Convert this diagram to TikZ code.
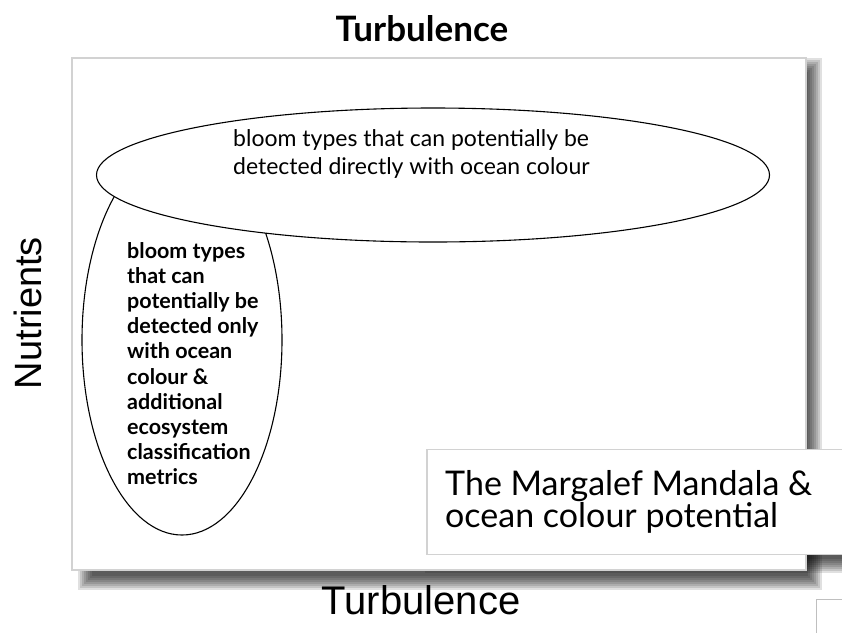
\documentclass[tikz,border=0pt]{standalone}
\usepackage{fontspec}
\setmainfont{Lato}
\newfontfamily\axisfont{Liberation Sans}
\usetikzlibrary{shapes.geometric,positioning}

\begin{document}
\begin{tikzpicture}[x=1pt,y=-1pt,
  blob/.style={draw,ellipse,line width=1.1pt,fill=white,inner sep=0pt},
  axislbl/.style={font=\axisfont\fontsize{38}{40}\selectfont,inner sep=0pt},
  blobtxt/.style={align=left,inner sep=0pt,anchor=north west}]
\useasboundingbox (0,0) rectangle (842,633);
\clip (0,0) rectangle (842,633);
% soft shadows
\foreach \k in {0,...,7}{\fill[black,opacity=.12](86-8+\k*2,66-8+\k*2) rectangle (814+8-\k*2,582+8-\k*2);
  \fill[black,opacity=.12](433-8+\k*2,459-8+\k*2) rectangle (860,565+8-\k*2);}
\node[draw=gray!35,line width=1.5pt,fill=white,minimum width=734,minimum height=512,inner sep=0pt] (panel) at (439,314) {};
\node[font=\bfseries\fontsize{35}{38}\selectfont,inner sep=0pt] (turbtop) at (422,29) {Turbulence};
\node[axislbl,font=\axisfont\fontsize{40}{42}\selectfont] (turbbot) at (421,600) {Turbulence};
\node[axislbl,rotate=90] (nutr) at (28,313) {Nutrients};
\node[blob,minimum width=200,minimum height=390] (bloomextra) at (182,340) {};
\node[blob,minimum width=673,minimum height=134] (bloomdirect) at (433,175) {};
\node[font=\fontsize{23}{28}\selectfont,blobtxt] (directtxt) at (233,129) {bloom types that can potentially be\\detected directly with ocean colour};
\node[font=\bfseries\fontsize{21.5}{25.2}\selectfont,blobtxt] (extratxt) at (127,242) {bloom types\\that can\\potentially be\\detected only\\with ocean\\colour \&\\additional\\ecosystem\\classification\\metrics};
% caption box
\node[draw=gray!35,line width=1.2pt,fill=white,minimum width=430,minimum height=105,inner sep=0pt] (capbox) at (642,502) {};
\node[font=\fontsize{34}{31}\selectfont,blobtxt] (captxt) at (445,470) {The Margalef Mandala \&\\ocean colour potential};
\draw[gray!50,line width=1pt] (842,599) -| (816,633);
\end{tikzpicture}
\end{document}
